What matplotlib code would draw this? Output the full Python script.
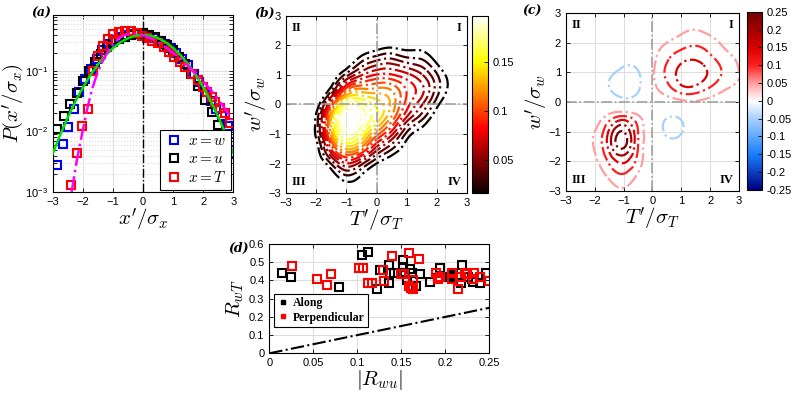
import numpy as np
import matplotlib
matplotlib.use("Agg")
import matplotlib.pyplot as plt
import matplotlib.tri as mtri
from matplotlib.colors import LinearSegmentedColormap, Normalize
from matplotlib.lines import Line2D

plt.rcParams['font.family'] = ['Liberation Sans', 'DejaVu Sans']
plt.rcParams['mathtext.fontset'] = 'cm'

# ---------------- (a) PDFs ----------------
w_x = [-2.87, -2.68, -2.5, -2.31, -2.12, -1.93, -1.74, -1.55, -1.36, -1.17, -0.98, -0.79, -0.6, -0.41, -0.22,
       -0.03, 0.16, 0.35, 0.54, 0.73, 0.92, 1.11, 1.3, 1.49, 1.68, 1.87, 2.06, 2.25, 2.44, 2.63, 2.82, 3.0]
w_p = [0.0028, 0.0063, 0.012, 0.0235, 0.045, 0.075, 0.11, 0.16, 0.22, 0.28, 0.33, 0.37, 0.4, 0.41, 0.41,
       0.4, 0.38, 0.35, 0.32, 0.28, 0.24, 0.2, 0.16, 0.125, 0.09, 0.065, 0.045, 0.032, 0.024, 0.018, 0.0125, 0.0068]
u_x = [-2.87, -2.64, -2.42, -2.2, -2.0, -1.8, -1.6, -1.4, -1.2, -1.0, -0.8, -0.6, -0.4, -0.2, 0.0,
       0.2, 0.4, 0.6, 0.8, 1.0, 1.2, 1.4, 1.6, 1.83, 2.06, 2.28, 2.5, 2.72, 2.98]
u_p = [0.011, 0.018, 0.029, 0.044, 0.068, 0.1, 0.14, 0.19, 0.25, 0.3, 0.34, 0.37, 0.39, 0.41, 0.42,
       0.4, 0.37, 0.32, 0.27, 0.22, 0.17, 0.13, 0.09, 0.056, 0.033, 0.021, 0.013, 0.0075, 0.0042]
T_x = [-2.39, -2.2, -2.02, -1.83, -1.67, -1.5, -1.35, -1.17, -1.0, -0.8, -0.61, -0.42, -0.22, -0.04, 0.14,
       0.31, 0.5, 0.68, 0.86, 1.03, 1.22, 1.4, 1.61, 1.83, 2.0, 2.11, 2.28, 2.39, 2.56, 2.72, 2.9]
T_p = [0.0013, 0.0045, 0.0125, 0.024, 0.1, 0.176, 0.26, 0.34, 0.41, 0.44, 0.47, 0.46, 0.43, 0.38, 0.35,
       0.32, 0.29, 0.25, 0.21, 0.17, 0.14, 0.115, 0.088, 0.07, 0.055, 0.046, 0.038, 0.031, 0.025, 0.02, 0.0137]
gauss_x = [-3, -2.75, -2.5, -2.25, -2, -1.75, -1.5, -1.25, -1, -0.75, -0.5, -0.25, 0,
           0.25, 0.5, 0.75, 1, 1.25, 1.5, 1.75, 2, 2.25, 2.5, 2.75, 3]
gauss_p = [0.0044, 0.0091, 0.0175, 0.0317, 0.054, 0.0863, 0.1295, 0.1826, 0.242, 0.3011, 0.3521, 0.3867, 0.3989,
           0.3867, 0.3521, 0.3011, 0.242, 0.1826, 0.1295, 0.0863, 0.054, 0.0317, 0.0175, 0.0091, 0.0044]
fitT_x = [-2.38, -2.2, -2.0, -1.85, -1.7, -1.55, -1.4, -1.2, -1.0, -0.8, -0.6, -0.4, -0.2, 0.0, 0.25,
          0.5, 0.75, 1.0, 1.25, 1.5, 1.75, 2.0, 2.25, 2.5, 2.75, 2.95]
fitT_p = [0.001, 0.0035, 0.011, 0.025, 0.05, 0.085, 0.13, 0.2, 0.28, 0.35, 0.4, 0.42, 0.41, 0.39, 0.35,
          0.3, 0.25, 0.2, 0.16, 0.12, 0.09, 0.067, 0.049, 0.034, 0.023, 0.0155]

# ---------------- (b) joint PDF, (c) covariance integrand ----------------
grid_ticks = [-3, -2.5, -2, -1.5, -1, -0.5, 0, 0.5, 1, 1.5, 2, 2.5, 3]
# rows: w'/sigma_w from -3 to 3, columns: T'/sigma_T from -3 to 3
jpdf_rows = [
    [0, 0, 0, 0, 0.003, 0, 0, 0, 0, 0, 0, 0, 0],
    [0, 0, 0, 0.005, 0.022, 0.012, 0.002, 0, 0, 0, 0, 0, 0],
    [0, 0, 0.002, 0.03, 0.065, 0.045, 0.016, 0.004, 0, 0, 0, 0, 0],
    [0, 0, 0.008, 0.08, 0.13, 0.11, 0.06, 0.03, 0.008, 0, 0, 0, 0],
    [0, 0.002, 0.02, 0.12, 0.18, 0.16, 0.11, 0.07, 0.025, 0.008, 0, 0, 0],
    [0, 0.003, 0.02, 0.13, 0.2, 0.19, 0.15, 0.11, 0.06, 0.03, 0.005, 0, 0],
    [0, 0, 0.005, 0.09, 0.17, 0.17, 0.15, 0.125, 0.085, 0.055, 0.02, 0.003, 0],
    [0, 0, 0, 0.025, 0.1, 0.12, 0.12, 0.115, 0.09, 0.07, 0.035, 0.01, 0],
    [0, 0, 0, 0.002, 0.035, 0.065, 0.08, 0.08, 0.07, 0.055, 0.03, 0.008, 0],
    [0, 0, 0, 0, 0.002, 0.025, 0.04, 0.045, 0.035, 0.03, 0.012, 0, 0],
    [0, 0, 0, 0, 0, 0.002, 0.008, 0.012, 0.01, 0.01, 0.002, 0, 0],
    [0, 0, 0, 0, 0, 0, 0, 0, 0, 0, 0, 0, 0],
    [0, 0, 0, 0, 0, 0, 0, 0, 0, 0, 0, 0, 0],
]
# columns: T'/sigma_T from -3 to 3, each listing w'/sigma_w from -3 to 3
cov_cols = [
    [0, 0, 0, 0, 0, 0, 0, 0, 0, 0, 0, 0, 0],
    [0, 0.005, 0.01, 0.02, 0.015, 0.005, 0, 0, 0, 0, 0, 0, 0],
    [0, 0.02, 0.04, 0.055, 0.05, 0.02, 0, -0.005, 0, 0, 0, 0, 0],
    [0.02, 0.06, 0.11, 0.17, 0.16, 0.07, -0.01, -0.05, -0.035, -0.005, 0, 0, 0],
    [0.04, 0.09, 0.16, 0.26, 0.25, 0.11, -0.03, -0.075, -0.065, -0.02, 0, 0, 0],
    [0.01, 0.04, 0.08, 0.1, 0.1, 0.06, -0.02, -0.06, -0.055, -0.01, 0, 0, 0],
    [0, 0.005, 0.01, 0.015, 0.01, 0, 0, 0.03, 0.04, 0.035, 0.02, 0.01, 0],
    [0, 0, 0, -0.01, -0.065, -0.045, 0.02, 0.085, 0.11, 0.09, 0.05, 0.02, 0.005],
    [0, 0, 0, -0.01, -0.055, -0.04, 0.035, 0.14, 0.17, 0.13, 0.075, 0.035, 0.01],
    [0, 0, 0, 0, -0.01, 0, 0.045, 0.14, 0.18, 0.14, 0.09, 0.045, 0.015],
    [0, 0, 0, 0, 0, 0, 0.03, 0.1, 0.14, 0.11, 0.07, 0.03, 0.01],
    [0, 0, 0, 0, 0, 0, 0.02, 0.06, 0.09, 0.07, 0.04, 0.02, 0],
    [0, 0, 0, 0, 0, 0, 0.01, 0.04, 0.05, 0.04, 0.02, 0, 0],
]
jpdf_levels = [0.016, 0.0285, 0.041, 0.0535, 0.066, 0.0785, 0.091, 0.1035, 0.116, 0.1285,
               0.141, 0.1535, 0.166, 0.1785, 0.191]
cov_levels = [-0.05, 0.05, 0.1, 0.15, 0.2, 0.25]

# ---------------- (d) correlation coefficients ----------------
along_Rwu = [0.0144, 0.0242, 0.0795, 0.105, 0.1125, 0.1227, 0.126, 0.136, 0.136, 0.137, 0.142, 0.152, 0.152,
             0.154, 0.156, 0.16, 0.162, 0.167, 0.171, 0.183, 0.194, 0.192, 0.205, 0.209, 0.219, 0.218,
             0.226, 0.23, 0.232, 0.239, 0.246]
along_RwT = [0.443, 0.419, 0.362, 0.54, 0.558, 0.351, 0.457, 0.485, 0.388, 0.439, 0.439, 0.512, 0.476,
             0.439, 0.402, 0.461, 0.439, 0.369, 0.434, 0.393, 0.466, 0.412, 0.421, 0.43, 0.485, 0.388,
             0.421, 0.406, 0.393, 0.388, 0.443]
perp_Rwu = [0.0258, 0.0545, 0.0652, 0.0697, 0.102, 0.107, 0.112, 0.117, 0.129, 0.13, 0.14, 0.15, 0.153,
            0.159, 0.159, 0.161, 0.163, 0.163, 0.17, 0.19, 0.192, 0.194, 0.208, 0.208, 0.214, 0.218,
            0.222, 0.225, 0.232, 0.233, 0.239, 0.25]
perp_RwT = [0.479, 0.408, 0.375, 0.435, 0.466, 0.466, 0.388, 0.388, 0.457, 0.397, 0.536, 0.435, 0.433,
            0.549, 0.369, 0.357, 0.402, 0.351, 0.516, 0.439, 0.406, 0.421, 0.439, 0.406, 0.351, 0.421,
            0.443, 0.435, 0.406, 0.443, 0.421, 0.399]
ref_line = [0, 0.25]


def style(ax, fs=8):
    ax.tick_params(which='both', direction='in', top=True, right=True, labelsize=fs, length=3, width=0.6)
    for s in ax.spines.values():
        s.set_linewidth(0.8)
    ax.grid(True, color='#dedede', lw=0.8)
    ax.set_axisbelow(True)


def refined(Z):
    X, Y = np.meshgrid(grid_ticks, grid_ticks)
    tri = mtri.Triangulation(X.ravel(), Y.ravel())
    return mtri.UniformTriRefiner(tri).refine_field(np.asarray(Z, float).ravel(), subdiv=3)


def quadrants(ax):
    kw = dict(transform=ax.transAxes, fontsize=9, family='Liberation Serif', fontweight='bold')
    ax.text(0.03, 0.965, 'II', ha='left', va='top', **kw)
    ax.text(0.97, 0.965, 'I', ha='right', va='top', **kw)
    ax.text(0.03, 0.03, 'III', ha='left', va='bottom', **kw)
    ax.text(0.97, 0.03, 'IV', ha='right', va='bottom', **kw)
    ax.axhline(0, color='#a0a0a0', ls='-.', lw=1.2)
    ax.axvline(0, color='#a0a0a0', ls='-.', lw=1.2)


fig = plt.figure(figsize=(7.93, 3.93), dpi=100)
lab_kw = dict(fontsize=9, family='DejaVu Serif', style='italic', fontweight='bold')
LFS = 15

# (a)
ax = fig.add_axes([0.0668, 0.5115, 0.2274, 0.4504])
style(ax)
ax.set_yscale('log')
ax.grid(True, which='minor', axis='y', color='#dcdcdc', ls=':', lw=0.8)
ax.plot(gauss_x, gauss_p, color='#00e000', lw=1.8, zorder=4)
ax.plot(fitT_x, fitT_p, color='#ff00ff', lw=1.8, ls='-.', zorder=4)
hw, = ax.plot(w_x, w_p, 's', mfc='none', mec='#0000ff', ms=6, mew=1.5, label='$x=w$')
hu, = ax.plot(u_x, u_p, 's', mfc='none', mec='k', ms=6, mew=1.5, label='$x=u$')
hT, = ax.plot(T_x, T_p, 's', mfc='none', mec='#ff0000', ms=6, mew=1.5, label='$x=T$')
ax.axvline(0, color='k', ls='-.', lw=1.0, zorder=3)
ax.set_xlim(-3, 3)
ax.set_ylim(1e-3, 0.85)
ax.set_xticks([-3, -2, -1, 0, 1, 2, 3])
ax.set_yticks([1e-3, 1e-2, 1e-1])
ax.set_xlabel(r"$x^{\prime}/\sigma_x$", fontsize=LFS, labelpad=0)
ax.set_ylabel(r"$P(x^{\prime}/\sigma_x)$", fontsize=LFS, labelpad=-1)
leg = ax.legend(handles=[hw, hu, hT], loc='lower right', fontsize=11, fancybox=False,
                edgecolor='k', framealpha=1, borderaxespad=0.15, handletextpad=0.3, handlelength=1.2,
                borderpad=0.3, labelspacing=0.25)
leg.get_frame().set_linewidth(0.8)
fig.text(0.040, 0.967, '(a)', ha='left', va='center', **lab_kw)

# (b)
ax = fig.add_axes([0.3607, 0.5089, 0.2282, 0.4504])
style(ax)
norm_b = Normalize(0.016, 0.197)
tri_b, z_b = refined(jpdf_rows)
ax.tricontour(tri_b, z_b, levels=jpdf_levels, cmap='hot', norm=norm_b, linestyles='-.', linewidths=1.6)
quadrants(ax)
ax.set_xlim(-3, 3)
ax.set_ylim(-3, 3)
ax.set_xticks(range(-3, 4))
ax.set_yticks(range(-3, 4))
ax.set_xlabel(r"$T^{\prime}/\sigma_T$", fontsize=LFS, labelpad=0)
ax.set_ylabel(r"$w^{\prime}/\sigma_w$", fontsize=LFS, labelpad=-1)
cax = fig.add_axes([0.5952, 0.5089, 0.0202, 0.4504])
cb = fig.colorbar(plt.cm.ScalarMappable(norm=norm_b, cmap='hot'), cax=cax, ticks=[0.05, 0.1, 0.15])
cb.ax.set_yticklabels(['0.05', '0.1', '0.15'])
cb.ax.tick_params(labelsize=8, direction='in', length=3, width=0.6)
cb.outline.set_linewidth(0.8)
fig.text(0.321, 0.967, '(b)', ha='left', va='center', **lab_kw)

# (c)
ax = fig.add_axes([0.7137, 0.514, 0.2182, 0.453])
style(ax)
div = LinearSegmentedColormap.from_list('div', [
    (0.0, '#000080'), (0.2, '#1a7fff'), (0.4, '#a8d0ff'), (0.5, '#ffffff'),
    (0.6, '#ff9e9e'), (0.7, '#ff2020'), (0.8, '#d80000'), (1.0, '#700000')])
norm_c = Normalize(-0.25, 0.25)
tri_c, z_c = refined(np.array(cov_cols).T)
ax.tricontour(tri_c, z_c, levels=cov_levels, cmap=div, norm=norm_c, linestyles='-.', linewidths=1.6)
quadrants(ax)
ax.set_xlim(-3, 3)
ax.set_ylim(-3, 3)
ax.set_xticks(range(-3, 4))
ax.set_yticks(range(-3, 4))
ax.set_xlabel(r"$T^{\prime}/\sigma_T$", fontsize=LFS, labelpad=0)
ax.set_ylabel(r"$w^{\prime}/\sigma_w$", fontsize=LFS, labelpad=-1)
cax = fig.add_axes([0.942, 0.517, 0.0189, 0.453])
cticks = [-0.25, -0.2, -0.15, -0.1, -0.05, 0, 0.05, 0.1, 0.15, 0.2, 0.25]
cb = fig.colorbar(plt.cm.ScalarMappable(norm=norm_c, cmap=div), cax=cax, ticks=cticks)
cb.ax.set_yticklabels(['-0.25', '-0.2', '-0.15', '-0.1', '-0.05', '0', '0.05', '0.1', '0.15', '0.2', '0.25'])
cb.ax.tick_params(labelsize=8, direction='in', length=3, width=0.6)
cb.outline.set_linewidth(0.8)
fig.text(0.659, 0.972, '(c)', ha='left', va='center', **lab_kw)

# (d)
ax = fig.add_axes([0.3396, 0.101, 0.2774, 0.278])
style(ax)
ax.plot(along_Rwu, along_RwT, 's', mfc='none', mec='k', ms=6, mew=1.5)
ax.plot(perp_Rwu, perp_RwT, 's', mfc='none', mec='#ff0000', ms=6, mew=1.5)
ax.plot(ref_line, ref_line, 'k-.', lw=1.5)
ax.set_xlim(0, 0.25)
ax.set_ylim(0, 0.6)
ax.set_xticks([0, 0.05, 0.1, 0.15, 0.2, 0.25])
ax.set_xticklabels(['0', '0.05', '0.1', '0.15', '0.2', '0.25'])
ax.set_yticks([0, 0.1, 0.2, 0.3, 0.4, 0.5, 0.6])
ax.set_yticklabels(['0', '0.1', '0.2', '0.3', '0.4', '0.5', '0.6'])
ax.set_xlabel(r"$|R_{wu}|$", fontsize=LFS, labelpad=0)
ax.set_ylabel(r"$R_{wT}$", fontsize=LFS, labelpad=2)
hl = [Line2D([], [], marker='s', ls='none', color='k', ms=3.5),
      Line2D([], [], marker='s', ls='none', color='#ff0000', ms=3.5)]
leg = ax.legend(hl, ['Along', 'Perpendicular'], loc='lower left', bbox_to_anchor=(0.02, 0.24),
                prop=dict(family='Liberation Serif', weight='bold', size=8.5), fancybox=False,
                edgecolor='k', framealpha=1, borderaxespad=0, handletextpad=0.3, handlelength=1.0,
                borderpad=0.3, labelspacing=0.2)
leg.get_frame().set_linewidth(0.8)
fig.text(0.288, 0.369, '(d)', ha='left', va='center', **lab_kw)

fig.savefig('out.png', dpi=100)
